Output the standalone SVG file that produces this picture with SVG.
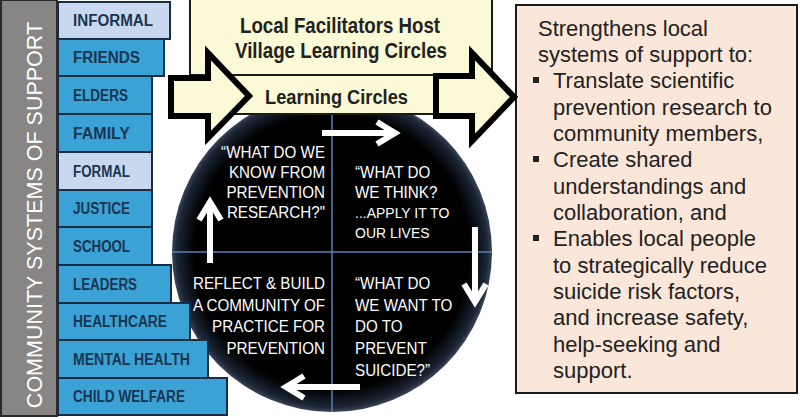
<svg xmlns="http://www.w3.org/2000/svg" width="800" height="419" viewBox="0 0 800 419">
<defs>
<style>
.lbl{font-family:"Liberation Sans",Arial,sans-serif;font-weight:bold;font-size:16px;fill:#1b3550}
.bx{stroke:#1a2d45;stroke-width:2}
.lt{fill:#c8d9ef}
.bl{fill:#3ba2d6}
.ctext{font-family:"Liberation Sans",Arial,sans-serif;font-size:16.5px;fill:#ffffff}
.sm{font-size:15.2px}
.rt{font-family:"Liberation Sans",Arial,sans-serif;font-size:22px;fill:#222222}
.hd{font-family:"Liberation Sans",Arial,sans-serif;font-weight:bold;fill:#222222}
.wa{fill:none;stroke:#ffffff;stroke-width:6;stroke-linecap:butt;stroke-linejoin:miter}
.blk{fill:#fbf9d6;stroke:#000000;stroke-width:6;stroke-linejoin:miter}
</style>
<radialGradient id="cg" cx="0.5" cy="0.5" r="0.5">
<stop offset="0" stop-color="#000000"/>
<stop offset="0.86" stop-color="#000000"/>
<stop offset="0.97" stop-color="#1c2636"/>
<stop offset="1" stop-color="#3a4658"/>
</radialGradient>
<clipPath id="cc"><circle cx="332" cy="252" r="160"/></clipPath>
</defs>
<rect width="800" height="419" fill="#ffffff"/>

<g id="circle">
<circle cx="332" cy="252" r="160" fill="url(#cg)"/>
<g clip-path="url(#cc)" stroke="#5a80b8" stroke-width="1.5">
<line x1="332" y1="90" x2="332" y2="412"/>
<line x1="170" y1="252" x2="494" y2="252"/>
</g>
</g>

<g id="sidebar">
<rect x="1" y="0" width="56" height="416" fill="#878685" stroke="#2a2a2a" stroke-width="2"/>
<text transform="translate(42,215) rotate(-90)" text-anchor="middle" font-family="Liberation Sans,Arial,sans-serif" font-size="21.5" fill="#ffffff">COMMUNITY SYSTEMS OF SUPPORT</text>
</g>

<g id="informal"><rect class="bx lt" x="58" y="2" width="112" height="37"/><text class="lbl" x="73" y="26" textLength="80" lengthAdjust="spacingAndGlyphs">INFORMAL</text></g>
<g id="friends"><rect class="bx bl" x="58" y="39" width="106" height="37"/><text class="lbl" x="73" y="63" textLength="67" lengthAdjust="spacingAndGlyphs">FRIENDS</text></g>
<g id="elders"><rect class="bx bl" x="58" y="76" width="94" height="38"/><text class="lbl" x="73" y="101" textLength="55" lengthAdjust="spacingAndGlyphs">ELDERS</text></g>
<g id="family"><rect class="bx bl" x="58" y="114" width="94" height="38"/><text class="lbl" x="73" y="139" textLength="57" lengthAdjust="spacingAndGlyphs">FAMILY</text></g>
<g id="formal"><rect class="bx lt" x="58" y="152" width="94" height="38"/><text class="lbl" x="73" y="177" textLength="57" lengthAdjust="spacingAndGlyphs">FORMAL</text></g>
<g id="justice"><rect class="bx bl" x="58" y="190" width="94" height="37"/><text class="lbl" x="73" y="214" textLength="57" lengthAdjust="spacingAndGlyphs">JUSTICE</text></g>
<g id="school"><rect class="bx bl" x="58" y="227" width="94" height="38"/><text class="lbl" x="73" y="252" textLength="57" lengthAdjust="spacingAndGlyphs">SCHOOL</text></g>
<g id="leaders"><rect class="bx bl" x="58" y="265" width="113" height="38"/><text class="lbl" x="73" y="290" textLength="64" lengthAdjust="spacingAndGlyphs">LEADERS</text></g>
<g id="healthcare"><rect class="bx bl" x="58" y="303" width="132" height="37"/><text class="lbl" x="73" y="327" textLength="94" lengthAdjust="spacingAndGlyphs">HEALTHCARE</text></g>
<g id="mental-health"><rect class="bx bl" x="58" y="340" width="150" height="38"/><text class="lbl" x="73" y="365" textLength="117" lengthAdjust="spacingAndGlyphs">MENTAL HEALTH</text></g>
<g id="child-welfare"><rect class="bx bl" x="58" y="378" width="169" height="37"/><text class="lbl" x="73" y="402" textLength="112" lengthAdjust="spacingAndGlyphs">CHILD WELFARE</text></g>

<g id="facilitators">
<rect x="190" y="-2" width="302" height="77" fill="#fbf9d6" stroke="#1a1a1a" stroke-width="2"/>
<text class="hd" x="240" y="33" font-size="22" textLength="200" lengthAdjust="spacingAndGlyphs">Local Facilitators Host</text>
<text class="hd" x="235" y="58" font-size="22" textLength="212" lengthAdjust="spacingAndGlyphs">Village Learning Circles</text>
</g>

<g id="learning-circles">
<rect x="222" y="75" width="214" height="39" fill="#fbf9d6" stroke="#1a1a1a" stroke-width="2"/>
<text class="hd" x="265" y="104" font-size="19.5" textLength="143" lengthAdjust="spacingAndGlyphs">Learning Circles</text>
</g>

<g id="quadrant-know" class="ctext" text-anchor="end" transform="scale(0.92,1)">
<text x="353.3" y="158">“WHAT DO WE</text>
<text x="353.3" y="178">KNOW FROM</text>
<text x="353.3" y="198">PREVENTION</text>
<text x="353.3" y="218">RESEARCH?"</text>
</g>
<g id="quadrant-think" class="ctext" transform="scale(0.92,1)">
<text x="385.9" y="178">“WHAT DO</text>
<text x="385.9" y="198">WE THINK?</text>
<text x="385.9" y="218" class="sm">...APPLY IT TO</text>
<text x="385.9" y="238" class="sm">OUR LIVES</text>
</g>
<g id="quadrant-reflect" class="ctext" text-anchor="end" transform="scale(0.92,1)">
<text x="353.3" y="289">REFLECT &amp; BUILD</text>
<text x="353.3" y="311">A COMMUNITY OF</text>
<text x="353.3" y="332">PRACTICE FOR</text>
<text x="353.3" y="354">PREVENTION</text>
</g>
<g id="quadrant-want" class="ctext" transform="scale(0.92,1)">
<text x="385.9" y="289">“WHAT DO</text>
<text x="385.9" y="311">WE WANT TO</text>
<text x="385.9" y="332">DO TO</text>
<text x="385.9" y="354">PREVENT</text>
<text x="385.9" y="376">SUICIDE?”</text>
</g>

<g id="outcomes">
<rect x="516" y="5" width="281" height="388" fill="#fae7da" stroke="#1a1a1a" stroke-width="2"/>
<g class="rt">
<text x="538" y="36">Strengthens local</text>
<text x="538" y="62">systems of support to:</text>
<text x="553" y="88">Translate scientific</text>
<text x="553" y="115">prevention research to</text>
<text x="553" y="141">community members,</text>
<text x="553" y="167">Create shared</text>
<text x="553" y="194">understandings and</text>
<text x="553" y="220">collaboration, and</text>
<text x="553" y="246">Enables local people</text>
<text x="553" y="273">to strategically reduce</text>
<text x="553" y="299">suicide risk factors,</text>
<text x="553" y="325">and increase safety,</text>
<text x="553" y="352">help-seeking and</text>
<text x="553" y="378">support.</text>
</g>
<rect x="533" y="77" width="6" height="6" fill="#222222"/>
<rect x="533" y="156" width="6" height="6" fill="#222222"/>
<rect x="533" y="235" width="6" height="6" fill="#222222"/>
</g>

<g id="connectors">
<path class="blk" d="M171 78 L208 78 L208 53 L249 96 L208 138 L208 116 L171 116 Z"/>
<path class="blk" d="M436 76 L472 76 L472 53 L514 97 L472 141 L472 116 L436 116 Z"/>
<path class="wa" d="M322 133 L393 133 M377 122 L395 133 L377 144"/>
<path class="wa" d="M475 227 L475 300 M464 284 L475 302 L486 284"/>
<path class="wa" d="M360 387 L288 387 M304 376 L286 387 L304 398"/>
<path class="wa" d="M210 263 L210 204 M199 220 L210 202 L221 220"/>
</g>
</svg>
